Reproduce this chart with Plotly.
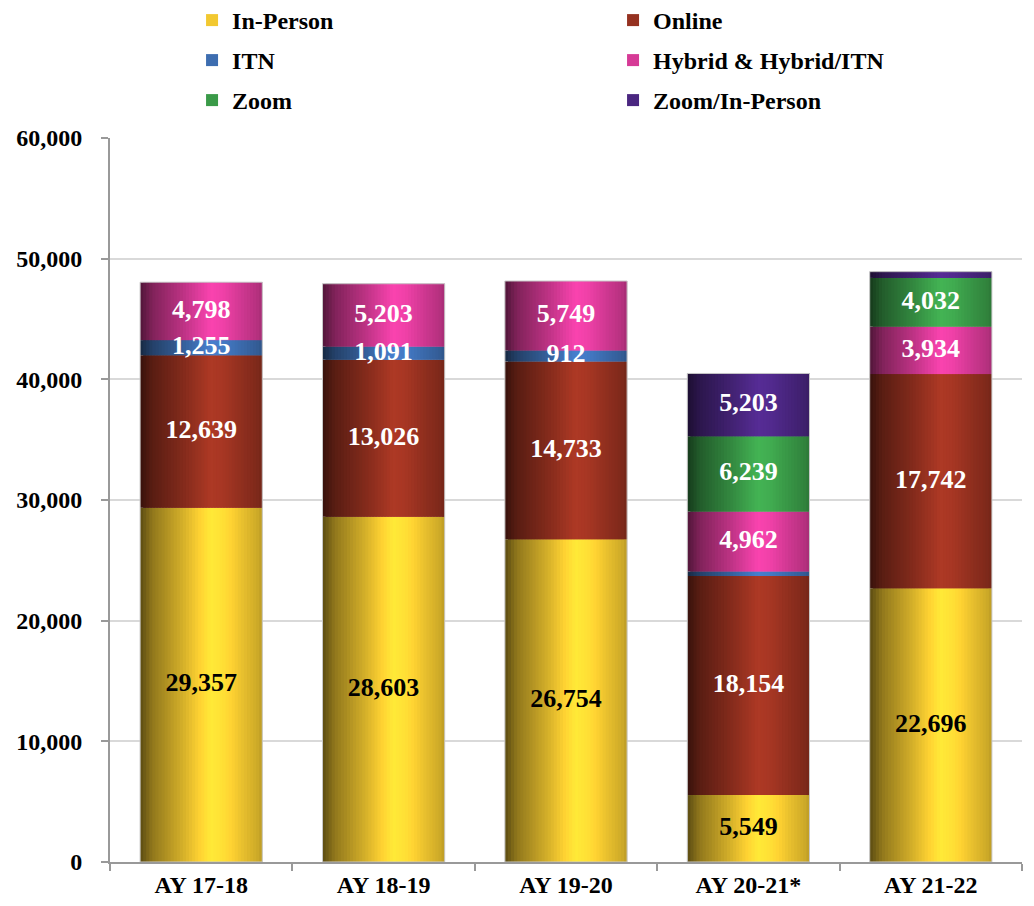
import plotly.graph_objects as go

# --- datos ---
years = ["AY 17-18", "AY 18-19", "AY 19-20", "AY 20-21*", "AY 21-22"]
in_person = [29357, 28603, 26754, 5549, 22696]
online = [12639, 13026, 14733, 18154, 17742]
itn = [1255, 1091, 912, 380, 0]
hybrid = [4798, 5203, 5749, 4962, 3934]
zoom = [0, 0, 0, 6239, 4032]
zoom_in_person = [0, 0, 0, 5203, 520]

series = [
    ("In-Person", in_person, "#f2c830", "black", "legend"),
    ("Online", online, "#953120", "white", "legend"),
    ("ITN", itn, "#3d6db0", "white", "legend2"),
    ("Hybrid & Hybrid/ITN", hybrid, "#d63a96", "white", "legend2"),
    ("Zoom", zoom, "#3a9a48", "white", "legend3"),
    ("Zoom/In-Person", zoom_in_person, "#4a2680", "white", "legend3"),
]

FONT = "Liberation Serif"
BAR_W = 0.67
N_STRIPS = 40

# perfil de sombreado tipo cilindro (posición, factor)
shade_pts = [(0.0, 0.38), (0.1, 0.6), (0.35, 0.88), (0.58, 1.17), (0.68, 1.12),
             (0.85, 0.95), (0.96, 0.85), (1.0, 0.78)]


def shade_factor(t):
    for (t0, f0), (t1, f1) in zip(shade_pts[:-1], shade_pts[1:]):
        if t0 <= t <= t1:
            return f0 + (f1 - f0) * (t - t0) / (t1 - t0)
    return 1.0


def shade(hex_color, f):
    r, g, b = (int(hex_color[i:i + 2], 16) for i in (1, 3, 5))
    r, g, b = (min(255, int(c * f)) for c in (r, g, b))
    return f"rgb({r},{g},{b})"


fig = go.Figure()

base = [0] * len(years)
step = BAR_W / N_STRIPS
for name, vals, color, txt_color, leg in series:
    for i in range(N_STRIPS):
        t = (i + 0.5) / N_STRIPS
        w = step * 2 if i < N_STRIPS - 1 else step
        fig.add_trace(go.Bar(
            x=years, y=vals, base=list(base),
            width=w, offset=-BAR_W / 2 + i * step,
            marker=dict(color=shade(color, shade_factor(t)), line=dict(width=0), opacity=1),
            opacity=1, showlegend=False, hoverinfo="skip",
        ))
    # entrada de leyenda
    fig.add_trace(go.Bar(x=[None], y=[None], name=name, legend=leg,
                         marker=dict(color=color, line=dict(width=0))))
    # etiquetas
    mids = [b + v / 2 for b, v in zip(base, vals)]
    labels = [f"{v:,}" if v > 600 else "" for v in vals]
    fig.add_trace(go.Scatter(
        x=years, y=mids, mode="text", text=labels,
        textfont=dict(family=FONT, size=26, color=txt_color, weight="bold"),
        showlegend=False, hoverinfo="skip",
    ))
    base = [b + v for b, v in zip(base, vals)]

# contorno de cada barra
fig.add_trace(go.Bar(
    x=years, y=base, width=BAR_W,
    marker=dict(color="rgba(0,0,0,0)", line=dict(color="#c8c8c8", width=1)),
    showlegend=False, hoverinfo="skip",
))

legend_common = dict(
    orientation="h", xref="container", yref="container",
    x=0.178, xanchor="left", yanchor="middle",
    entrywidth=376, entrywidthmode="pixels",
    font=dict(family=FONT, size=24, color="black", weight="bold"),
    bgcolor="rgba(0,0,0,0)", itemclick=False,
)

fig.update_layout(
    width=1034, height=906,
    barmode="overlay",
    plot_bgcolor="white", paper_bgcolor="white",
    margin=dict(l=102, r=20, t=130, b=52, autoexpand=False),
    font=dict(family=FONT, size=24, color="black", weight="bold"),
    legend=dict(legend_common, y=1 - 12.5 / 906),
    legend2=dict(legend_common, y=1 - 52.5 / 906),
    legend3=dict(legend_common, y=1 - 92.5 / 906),
)
fig.update_xaxes(
    showline=True, linecolor="#999999", linewidth=2,
    ticks="outside", tickson="boundaries", ticklen=7, tickcolor="#999999", tickwidth=2,
    tickfont=dict(family=FONT, size=24, color="black", weight="bold"),
    showgrid=False, automargin=False,
)
fig.update_yaxes(
    range=[0, 60000], tickvals=[0, 10000, 20000, 30000, 40000, 50000, 60000],
    tickformat=",", showline=True, linecolor="#999999", linewidth=2,
    ticks="outside", ticklen=7, tickcolor="#999999", tickwidth=2,
    ticklabelstandoff=14, automargin=False,
    showgrid=True, gridcolor="#d9d9d9", gridwidth=2,
    tickfont=dict(family=FONT, size=24, color="black", weight="bold"),
)

fig.write_html("out.html")
